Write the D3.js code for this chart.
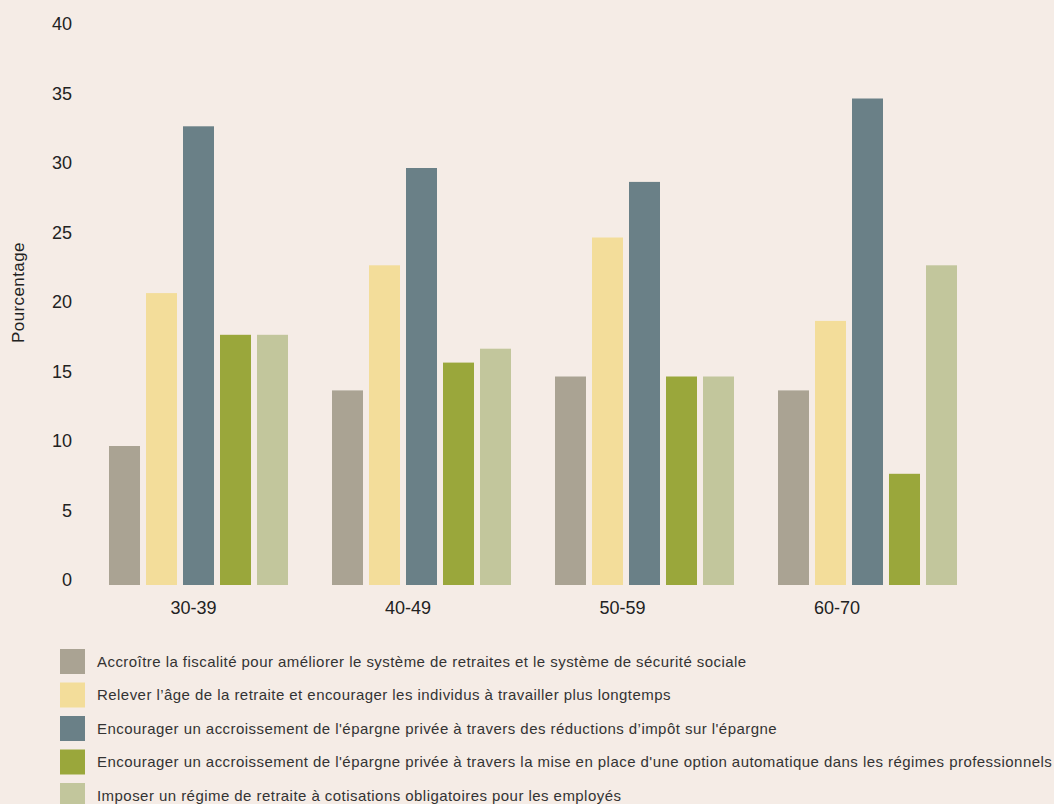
<!DOCTYPE html>
<html>
<head>
<meta charset="utf-8">
<script src="https://cdn.jsdelivr.net/npm/d3@7"></script>
<style>
  html, body { margin: 0; padding: 0; background: #f5ece6; }
  svg { display: block; font-family: "Liberation Sans", Arial, sans-serif; }
</style>
</head>
<body>
<svg id="chart" width="1054" height="804"></svg>
<script>
// Age groups on the x axis
const ageGroups = ["30-39", "40-49", "50-59", "60-70"];

// Policy options (legend order = bar order within each group)
const options = [
  "Accroître la fiscalité pour améliorer le système de retraites et le système de sécurité sociale",
  "Relever l’âge de la retraite et encourager les individus à travailler plus longtemps",
  "Encourager un accroissement de l'épargne privée à travers des réductions d’impôt sur l'épargne",
  "Encourager un accroissement de l'épargne privée à travers la mise en place d'une option automatique dans les régimes professionnels",
  "Imposer un régime de retraite à cotisations obligatoires pour les employés"
];

// Percentages per option, one value per age group
const fiscalite      = [10, 14, 15, 14];
const ageRetraite    = [21, 23, 25, 19];
const reductionImpot = [33, 30, 29, 35];
const optionAuto     = [18, 16, 15, 8];
const regimeOblig    = [18, 17, 15, 23];

const seriesValues = [fiscalite, ageRetraite, reductionImpot, optionAuto, regimeOblig];
const colors = ["#aaa393", "#f3dd9a", "#6a8087", "#9aa73b", "#c2c69c"];

const yTicks = [0, 5, 10, 15, 20, 25, 30, 35, 40];

const svg = d3.select("#chart");

const y = d3.scaleLinear().domain([0, 40]).range([585, 29]);

// Bar groups
const x0 = d3.scaleBand()
  .domain(ageGroups)
  .range([87, 979])
  .paddingInner(44 / 223)
  .paddingOuter(22 / 223);

const x1 = d3.scaleBand()
  .domain(d3.range(options.length))
  .range([0, x0.bandwidth()])
  .paddingInner(6 / 37)
  .paddingOuter(0);

// Category labels sit on their own evenly spaced positions
const xLabel = d3.scalePoint()
  .domain(ageGroups)
  .range([193, 836.5]);

const color = d3.scaleOrdinal().domain(d3.range(options.length)).range(colors);

// Y axis: labels only, no line or tick marks
const yAxis = svg.append("g")
  .attr("transform", "translate(72,-5)")
  .call(d3.axisLeft(y).tickValues(yTicks).tickSize(0).tickPadding(0));
yAxis.select(".domain").remove();
yAxis.selectAll("text")
  .attr("font-size", 18)
  .attr("fill", "#222")
  .attr("font-family", "Liberation Sans, Arial, sans-serif");

// Y axis title
svg.append("text")
  .attr("transform", "translate(23.5,292.5) rotate(-90)")
  .attr("text-anchor", "middle")
  .attr("font-size", 17)
  .attr("letter-spacing", 0.4)
  .attr("fill", "#222")
  .text("Pourcentage");

// X axis: category labels only
const xAxis = svg.append("g")
  .attr("transform", "translate(0,601)")
  .call(d3.axisBottom(xLabel).tickSize(0).tickPadding(0));
xAxis.select(".domain").remove();
xAxis.selectAll("text")
  .attr("font-size", 18)
  .attr("fill", "#222")
  .attr("font-family", "Liberation Sans, Arial, sans-serif");

// Bars
const rows = ageGroups.map((g, gi) => ({
  group: g,
  values: seriesValues.map((s, si) => ({ si, v: s[gi] }))
}));

svg.append("g")
  .selectAll("g")
  .data(rows)
  .join("g")
  .attr("transform", d => `translate(${x0(d.group)},0)`)
  .selectAll("rect")
  .data(d => d.values)
  .join("rect")
  .attr("x", d => x1(d.si))
  .attr("width", x1.bandwidth())
  .attr("y", d => y(d.v))
  .attr("height", d => y(0) - y(d.v))
  .attr("fill", d => color(d.si));

// Legend
const legend = svg.append("g").attr("transform", "translate(60,649)");
const item = legend.selectAll("g")
  .data(options)
  .join("g")
  .attr("transform", (d, i) => `translate(0,${i * 33.5})`);
item.append("rect")
  .attr("width", 25)
  .attr("height", 25)
  .attr("fill", (d, i) => color(i));
item.append("text")
  .attr("x", 37)
  .attr("y", 12.5)
  .attr("dy", "0.35em")
  .attr("font-size", 15)
  .attr("letter-spacing", 0.45)
  .attr("fill", "#333")
  .text(d => d);
</script>
</body>
</html>
